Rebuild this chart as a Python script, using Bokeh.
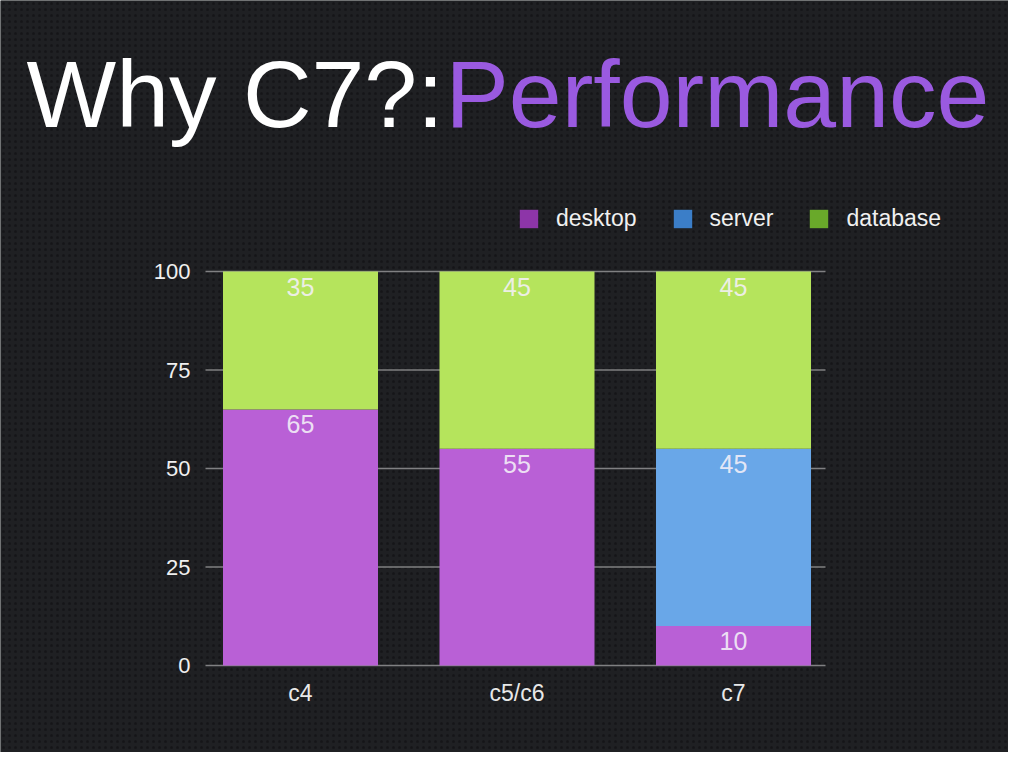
from bokeh.plotting import figure
from bokeh.models import Range1d, Label, Legend, LegendItem, ColumnDataSource, BoxAnnotation
from bokeh.core.properties import value
from bokeh.embed import file_html
from bokeh.resources import INLINE

categories = ["c4", "c5/c6", "c7"]
series = ["desktop", "server", "database"]
desktop = [65, 55, 10]
server = [0, 0, 45]
database = [35, 45, 45]
y_ticks = [0, 25, 50, 75, 100]

bar_colors = ["#b960d6", "#69a7e8", "#b5e45c"]
legend_colors = ["#8d35a8", "#3b7ec8", "#69a92a"]
FONT = "Liberation Sans"
BG = "#1f2023"

# ---- layout constants (canvas pixels) ----
W, H = 1008, 752
X0_PX, DX_PX = 300.0, 216.5       # centre of first category, spacing between categories
Y0_PX, Y100_PX = 665.0, 271.0     # pixel rows of value 0 and value 100
GRID_L_PX, GRID_R_PX = 205.0, 825.0
ppu_y = (Y0_PX - Y100_PX) / 100.0


def px_x(px):
    return (px - X0_PX) / DX_PX


def px_y(py):
    return (Y0_PX - py) / ppu_y


xs = list(range(len(categories)))

p = figure(width=W, height=H, x_range=Range1d(px_x(0), px_x(W)), y_range=Range1d(px_y(H), px_y(0)),
           output_backend="svg", toolbar_location=None,
           min_border_left=0, min_border_right=0, min_border_top=0, min_border_bottom=0)
p.background_fill_color = BG
p.border_fill_color = BG
p.outline_line_color = None

# perforated texture
p.add_layout(BoxAnnotation(fill_color=BG, fill_alpha=1.0, line_color=None,
                           hatch_pattern="dot", hatch_color="#131315", hatch_scale=6,
                           hatch_weight=2.5, hatch_alpha=0.8, level="underlay"))

# grid lines (limited horizontal extent as in the reference)
p.segment(x0=[px_x(GRID_L_PX)] * len(y_ticks), x1=[px_x(GRID_R_PX)] * len(y_ticks),
          y0=y_ticks, y1=y_ticks, line_color="#808082", line_width=1.3)
p.xgrid.visible = False
p.ygrid.visible = False

src = ColumnDataSource(dict(x=xs, desktop=desktop, server=server, database=database))
p.vbar_stack(series, x="x", width=155 / DX_PX, source=src, color=bar_colors, line_color=None)

# value labels
lx, ly, lt = [], [], []
for i in xs:
    base = 0
    for vals in (desktop, server, database):
        v = vals[i]
        if v > 0:
            lx.append(i)
            ly.append(base + v)
            lt.append(str(v))
        base += v
p.text(x=lx, y=ly, text=lt, text_align="center", text_baseline="top", y_offset=6,
       text_color="#f4f0f8", text_alpha=0.9, text_font=value(FONT), text_font_size="25px")

# axes placed inside the frame
p.yaxis.fixed_location = px_x(GRID_L_PX)
p.yaxis.ticker = y_ticks
p.yaxis.axis_line_color = None
p.yaxis.major_tick_line_color = None
p.yaxis.minor_tick_line_color = None
p.yaxis.major_label_text_color = "#f0f0f0"
p.yaxis.major_label_text_font = FONT
p.yaxis.major_label_text_font_size = "22px"
p.yaxis.major_label_standoff = 9

p.xaxis.fixed_location = 0
p.xaxis.ticker = xs
p.xaxis.major_label_overrides = {i: c for i, c in zip(xs, categories)}
p.xaxis.axis_line_color = None
p.xaxis.major_tick_line_color = None
p.xaxis.minor_tick_line_color = None
p.xaxis.major_label_text_color = "#e8e8e8"
p.xaxis.major_label_text_font = FONT
p.xaxis.major_label_text_font_size = "23px"
p.xaxis.major_label_standoff = 8

# title
p.add_layout(Label(x=px_x(26), y=px_y(93), text="Why C7?:", text_color="#ffffff",
                   text_font=FONT, text_font_size="95px", text_baseline="alphabetic"))
p.add_layout(Label(x=px_x(445), y=px_y(93), text="Performance", text_color="#9a5ae0",
                   text_font=FONT, text_font_size="95px", text_baseline="alphabetic"))

# legend (square swatches)
items = []
for name, col in zip(series, legend_colors):
    r = p.rect(x=[float("nan")], y=[float("nan")], width=1, height=1,
               color=col, line_color=None)
    items.append(LegendItem(label=name, renderers=[r]))
legend = Legend(items=items, orientation="horizontal", location=(517, H - 232),
                background_fill_alpha=0, border_line_color=None,
                label_text_color="#f0f0f0", label_text_font=FONT, label_text_font_size="23px",
                glyph_width=23, glyph_height=23, spacing=34, label_standoff=16, padding=0,
                margin=0)
p.add_layout(legend, "center")

open("out.html", "w").write(file_html(p, INLINE))
